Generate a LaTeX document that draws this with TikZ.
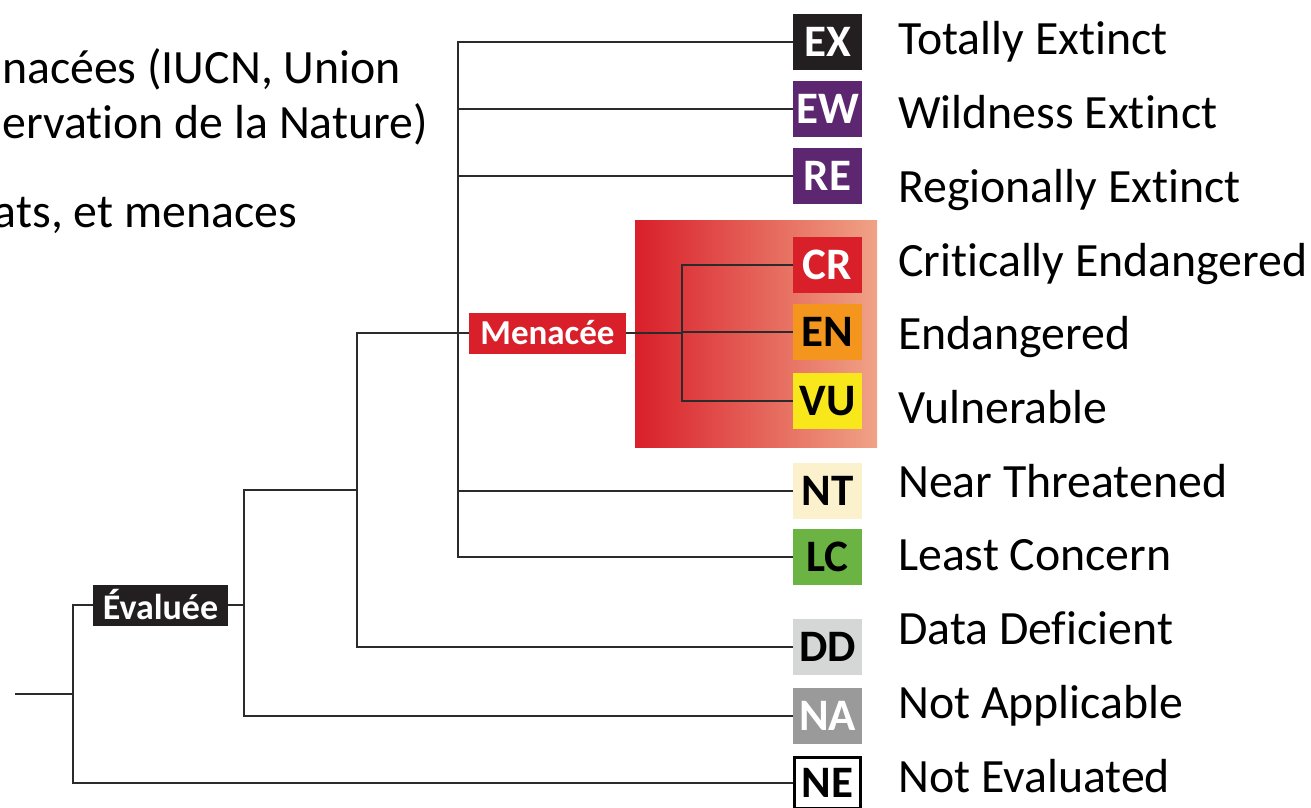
\documentclass[tikz,border=0pt]{standalone}
\usepackage{fontspec}
\setmainfont{Carlito}[RawFeature={-liga;-dlig;-clig}]
\definecolor{cEX}{HTML}{231F20}
\definecolor{cEW}{HTML}{5C2770}
\definecolor{cCR}{HTML}{D91F2A}
\definecolor{cEN}{HTML}{F4961E}
\definecolor{cVU}{HTML}{F8E71A}
\definecolor{cNT}{HTML}{FBF1CC}
\definecolor{cLC}{HTML}{6BB444}
\definecolor{cDD}{HTML}{D5D7D7}
\definecolor{cNA}{HTML}{9A9A9A}
\definecolor{gradR}{HTML}{F0A386}
\definecolor{lineC}{HTML}{2B2B2B}
\begin{document}
\begin{tikzpicture}[x=1pt,y=-1pt,
  conn/.style={draw=lineC, line width=2pt},
  cat/.style={minimum width=69pt, minimum height=56pt, inner sep=0pt,
    font=\fontsize{45}{45}\selectfont\bfseries},
  lab/.style={anchor=base west, inner sep=0pt, font=\fontsize{47.8}{50}\selectfont},
  intro/.style={anchor=base east, inner sep=0pt, font=\fontsize{47.8}{50}\selectfont},
  tag/.style={minimum height=41pt, inner sep=0pt, text=white,
    font=\fontsize{36}{36}\selectfont\bfseries}]
\useasboundingbox (0,0) rectangle (1311,808);
\clip (0,0) rectangle (1311,808);
\fill[white] (0,0) rectangle (1311,808);

% intro text (cut at left edge)
\node[intro] (t1) at (401,83) {nacées (IUCN, Union};
\node[intro] (t2) at (428,138) {ervation de la Nature)};
\node[intro] (t3) at (297,227) {ats, et menaces};

% gradient panel
\shade[left color=cCR, right color=gradR] (635,220) rectangle (877,447);

% category boxes
\node[cat, fill=cEX, text=white] (EX) at (827.5,42) {EX};
\node[cat, fill=cEW, text=white] (EW) at (827.5,109) {EW};
\node[cat, fill=cEW, text=white] (RE) at (827.5,176) {RE};
\node[cat, fill=cCR, text=white] (CR) at (827.5,265) {CR};
\node[cat, fill=cEN, text=black] (EN) at (827.5,332) {EN};
\node[cat, fill=cVU, text=black] (VU) at (827.5,401) {VU};
\node[cat, fill=cNT, text=black] (NT) at (827.5,491) {NT};
\node[cat, fill=cLC, text=black] (LC) at (827.5,557) {LC};
\node[cat, fill=cDD, text=black] (DD) at (827.5,647) {DD};
\node[cat, fill=cNA, text=white] (NA) at (827.5,716) {NA};
\node[cat, fill=white, text=black, draw=black, line width=3pt,
  minimum width=66pt, minimum height=51pt] (NE) at (827.5,783) {NE};

% labels
\node[lab] (lEX) at (898,55) {Totally Extinct};
\node[lab] (lEW) at (898,128.7) {Wildness Extinct};
\node[lab] (lRE) at (898,202.4) {Regionally Extinct};
\node[lab] (lCR) at (898,276.1) {Critically Endangered};
\node[lab] (lEN) at (898,349.8) {Endangered};
\node[lab] (lVU) at (898,423.5) {Vulnerable};
\node[lab] (lNT) at (898,497.2) {Near Threatened};
\node[lab] (lLC) at (898,570.9) {Least Concern};
\node[lab] (lDD) at (898,644.6) {Data Deficient};
\node[lab] (lNA) at (898,718.3) {Not Applicable};
\node[lab] (lNE) at (898,792) {Not Evaluated};

% group tags
\node[tag, fill=cCR, minimum width=157pt, font=\fontsize{35}{35}\selectfont\bfseries] (men) at (547.5,333) {Menacée};
\node[tag, fill=cEX, minimum width=135pt] (ev) at (160.5,605) {Évaluée};

% junctions
\coordinate (r) at (15,694);
\coordinate (a) at (73,694);
\coordinate (b) at (244,605);
\coordinate (c) at (357,490);
\coordinate (d) at (458,333);
\coordinate (e) at (682,333);

% connectors
\draw[conn] (r) -- (a);
\draw[conn] (ev.west) -| (a);
\draw[conn] (a) |- (NE.west);
\draw[conn] (ev.east) -- (b);
\draw[conn] (b) |- (c);
\draw[conn] (b) |- (NA.west);
\draw[conn] (c) |- (men.west);
\draw[conn] (c) |- (DD.west);
\draw[conn] (d) |- (EX.west);
\draw[conn] (d) |- (EW.west);
\draw[conn] (d) |- (RE.west);
\draw[conn] (d) |- (NT.west);
\draw[conn] (d) |- (LC.west);
\draw[conn] (men.east) -- (e);
\draw[conn] (e) |- (CR.west);
\draw[conn] (e) |- (EN.west);
\draw[conn] (e) |- (VU.west);
\end{tikzpicture}
\end{document}
